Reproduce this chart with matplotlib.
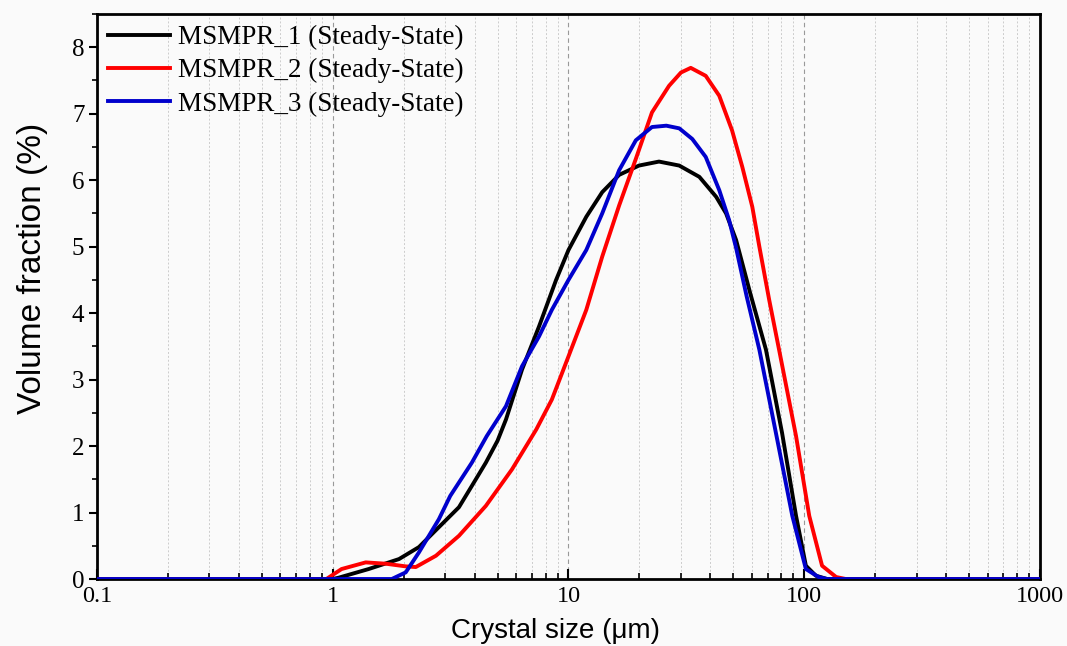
import matplotlib
matplotlib.use("Agg")
import matplotlib.pyplot as plt
from matplotlib.ticker import LogLocator, FixedLocator, NullFormatter, MultipleLocator

# ---- data ----
size_1 = [0.1, 1.0, 1.06, 1.42, 1.91, 2.32, 2.82, 3.43, 3.89, 4.46, 5.0, 5.43, 6.35, 7.5, 8.86,
          10.0, 11.9, 13.9, 16.4, 19.9, 24.2, 29.5, 35.9, 42.3, 46.6, 51.4, 59.0, 68.8,
          80.5, 92.3, 101.6, 112.0, 125.0, 1000.0]
vol_1 = [0.0, 0.0, 0.02, 0.15, 0.30, 0.48, 0.78, 1.08, 1.4, 1.75, 2.08, 2.4, 3.15, 3.8, 4.5,
         4.95, 5.45, 5.82, 6.08, 6.22, 6.28, 6.22, 6.05, 5.75, 5.5, 5.1, 4.3, 3.45,
         2.2, 0.95, 0.2, 0.05, 0.0, 0.0]

size_2 = [0.1, 0.94, 1.09, 1.38, 1.68, 2.04, 2.25, 2.74, 3.43, 4.46, 5.76, 7.3, 8.5, 10.0,
          11.9, 13.9, 16.4, 19.3, 22.6, 26.7, 30.0, 33.0, 38.2, 43.6, 49.4, 54.6, 60.2,
          64.5, 71.0, 78.2, 92.3, 105.0, 119.0, 136.5, 150.0, 1000.0]
vol_2 = [0.0, 0.0, 0.15, 0.25, 0.23, 0.19, 0.18, 0.35, 0.65, 1.1, 1.65, 2.25, 2.7, 3.35,
         4.05, 4.85, 5.62, 6.32, 7.02, 7.42, 7.62, 7.69, 7.57, 7.27, 6.75, 6.2, 5.6,
         5.0, 4.2, 3.45, 2.15, 0.95, 0.2, 0.03, 0.0, 0.0]

size_3 = [0.1, 1.78, 2.04, 2.32, 2.82, 3.15, 3.89, 4.5, 5.43, 6.35, 7.5, 8.5, 10.0, 11.9,
          13.9, 16.4, 19.3, 22.6, 26.0, 29.5, 33.5, 38.2, 43.6, 48.0, 51.4, 57.0, 64.5,
          75.8, 89.0, 101.6, 115.0, 125.0, 1000.0]
vol_3 = [0.0, 0.0, 0.1, 0.4, 0.9, 1.25, 1.75, 2.15, 2.6, 3.2, 3.65, 4.05, 4.5, 4.95,
         5.5, 6.15, 6.6, 6.8, 6.82, 6.78, 6.62, 6.35, 5.85, 5.4, 4.98, 4.25, 3.45,
         2.2, 0.95, 0.15, 0.03, 0.0, 0.0]

labels = ["MSMPR_1 (Steady-State)", "MSMPR_2 (Steady-State)", "MSMPR_3 (Steady-State)"]
colors = ["#000000", "#ff0000", "#0000cc"]

x_ticks = [0.1, 1, 10, 100, 1000]
x_ticklabels = ["0.1", "1", "10", "100", "1000"]
y_ticks = [0, 1, 2, 3, 4, 5, 6, 7, 8]

# ---- figure ----
fig = plt.figure(figsize=(10.67, 6.46), dpi=100, facecolor="#fafafa")
ax = fig.add_axes([0.0909, 0.1037, 0.8838, 0.8746])
ax.set_facecolor("#fafafa")

for s, v, lab, c in zip([size_1, size_2, size_3], [vol_1, vol_2, vol_3], labels, colors):
    ax.plot(s, v, color=c, lw=2.8, label=lab, solid_joinstyle="round", zorder=3)

ax.set_xscale("log")
ax.set_xlim(0.1, 1000)
ax.set_ylim(0, 8.5)

ax.xaxis.set_major_locator(FixedLocator(x_ticks))
ax.set_xticklabels(x_ticklabels)
ax.xaxis.set_minor_locator(LogLocator(base=10, subs=range(2, 10), numticks=20))
ax.xaxis.set_minor_formatter(NullFormatter())
ax.set_yticks(y_ticks)
ax.yaxis.set_minor_locator(MultipleLocator(0.5))

ax.grid(True, which="major", axis="x", color="#999999", linestyle=(0, (4, 3)), lw=0.8)
ax.grid(True, which="minor", axis="x", color="#cccccc", linestyle=(0, (2, 2)), lw=0.7)
ax.set_axisbelow(True)

for sp in ax.spines.values():
    sp.set_linewidth(2.0)
    sp.set_color("black")

ax.tick_params(axis="x", which="major", direction="in", length=7, width=1.5,
               labelsize=17.5, pad=5)
ax.tick_params(axis="x", which="minor", direction="in", length=4, width=1.2)
ax.tick_params(axis="y", which="major", direction="out", length=6, width=1.5,
               labelsize=18, pad=3)
ax.tick_params(axis="y", which="minor", direction="out", length=3.5, width=1.2)
for t in ax.get_xticklabels() + ax.get_yticklabels():
    t.set_fontfamily("Liberation Serif")

ax.set_xlabel("Crystal size (μm)", fontsize=20, family="Liberation Sans")
ax.set_ylabel("Volume fraction (%)", fontsize=24, family="Liberation Sans")
ax.xaxis.set_label_coords(0.486, -0.069)
ax.yaxis.set_label_coords(-0.052, 0.549)

leg = ax.legend(loc="upper left", frameon=False, handlelength=2.3, handletextpad=0.3,
                labelspacing=0.3, borderaxespad=0.1, borderpad=0.3,
                prop={"family": "Liberation Serif", "size": 19.5})

fig.savefig("out.png", dpi=100, facecolor=fig.get_facecolor())
